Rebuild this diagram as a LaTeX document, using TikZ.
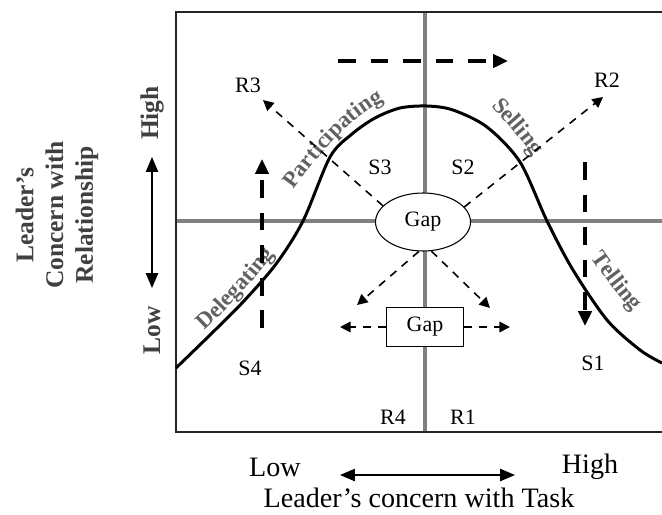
\documentclass[tikz,border=0pt]{standalone}
\usepackage{fontspec}
\setmainfont{Liberation Serif}
\newfontfamily\widefam[LetterSpace=11]{Liberation Serif}
\usepackage{tikz}
\usetikzlibrary{arrows.meta,shapes.geometric,decorations.text}
\colorlet{rule}{black!85}
\colorlet{midgray}{black!50}
\colorlet{curvetext}{black!62}
\newcommand{\wordfont}{\fontsize{13}{13}\selectfont\bfseries}
\newcommand{\widewordfont}{\widefam\fontsize{13}{13}\selectfont\bfseries}
\tikzset{
  frame/.style={draw=rule,line width=1.6pt},
  midline/.style={draw=midgray,line width=1.8pt},
  bell/.style={draw=black,line width=1.7pt},
  lbl/.style={font=\fontsize{12.5}{14}\selectfont,inner sep=1pt},
  axlbl/.style={font=\fontsize{16}{18}\selectfont,inner sep=1pt},
  sidelbl/.style={font=\fontsize{14.5}{17}\selectfont\bfseries,text=black!75,rotate=90,align=center,inner sep=1pt},
  gapoval/.style={ellipse,draw,line width=0.6pt,fill=white,minimum width=1.9cm,minimum height=1.16cm,inner sep=0pt,font=\fontsize{12.5}{14}\selectfont},
  gapbox/.style={rectangle,draw,line width=0.8pt,fill=white,minimum width=1.54cm,minimum height=0.78cm,inner sep=0pt,font=\fontsize{12.5}{14}\selectfont},
  thindash/.style={draw,line width=0.9pt,dash pattern=on 4.5pt off 4pt,-{Triangle[length=6pt,width=6pt]}},
  thickdash/.style={draw,line width=2.2pt,dash pattern=on 10pt off 8.5pt,-{Triangle[length=8.5pt,width=7.5pt]}},
  axarrow/.style={draw,line width=0.9pt,{Triangle[length=8.5pt,width=7pt]}-{Triangle[length=8.5pt,width=7pt]}}
}
\newcommand{\bendword}[2]{%
  \path[decorate,decoration={text along path,text align=center,text color=curvetext,
    text={#2}}] #1;
}

\begin{document}
\begin{tikzpicture}[x=0.02cm,y=-0.02cm]
  \useasboundingbox (0,0) rectangle (662,514);
  \draw[midline] (425,12) -- (425,432);
  \draw[midline] (176,221) -- (662,221);
  % frame, open on the right
  \draw[frame] (662,12) -| (176,432) -- (662,432);
  \draw[bell] plot[smooth] coordinates {(176,368)(210,335)(243,302)(276,264)(303,221)(330,157)(352,134)(375,118)(400,108)(427,106)(453,110)(487,127)(520,162)(547,221)(573,270)(607,320)(640,350)(662,363)};
  % style names along the curve
  \bendword{(189,345) .. controls (222,315) and (260,276) .. (287,237)}{|\widewordfont|Delegating}
  \bendword{(279,210) .. controls (312,165) and (350,108) .. (407,91)}{|\widewordfont|Participating}
  \bendword{(479,93) .. controls (497,112) and (527,143) .. (543,172)}{|\wordfont|Selling}
  \bendword{(582,243) .. controls (597,268) and (622,301) .. (644,324)}{|\wordfont|Telling}

  \node[lbl] (s3) at (380,167) {S3};
  \node[lbl] (s2) at (463,167) {S2};
  \node[lbl] (s4) at (250,368) {S4};
  \node[lbl] (s1) at (593,363) {S1};
  \node[lbl] (r3) at (248,85) {R3};
  \node[lbl] (r2) at (607,80) {R2};
  \node[lbl] (r4) at (393,417) {R4};
  \node[lbl] (r1) at (463,417) {R1};

  \node[gapoval] (gapE) at (423,222) {Gap};
  \node[gapbox] (gapR) at (425,327) {Gap};

  \coordinate (toR3) at (263,100);
  \coordinate (toR2) at (603,97);
  \coordinate (downL) at (357,305);
  \coordinate (downR) at (490,308);
  \coordinate (sideL) at (340,327);
  \coordinate (sideR) at (510,327);
  \draw[thindash] (gapE.158) -- (toR3);
  \draw[thindash] (gapE.20) -- (toR2);
  \draw[thindash] (gapE.262) -- (downL);
  \draw[thindash] (gapE.286) -- (downR);
  \draw[thindash] (gapR.west) -- (sideL);
  \draw[thindash] (gapR.east) -- (sideR);

  % movement arrows
  \coordinate (topA) at (338,61);
  \coordinate (topB) at (508,61);
  \coordinate (leftA) at (262,328);
  \coordinate (leftB) at (262,159);
  \coordinate (rightA) at (585,162);
  \coordinate (rightB) at (585,326);
  \draw[thickdash] (topA) -- (topB);
  \draw[thickdash] (leftA) -- (leftB);
  \draw[thickdash] (rightA) -- (rightB);

  % axes
  \node[sidelbl] (relT) at (57,215) {Leader’s\\Concern with\\Relationship};
  \node[sidelbl] (relHi) at (152,113) {High};
  \node[sidelbl] (relLo) at (152,330) {Low};
  \coordinate (relA) at (152,157);
  \coordinate (relB) at (152,288);
  \draw[axarrow] (relA) -- (relB);
  \node[axlbl] (taskLo) at (275,467) {Low};
  \node[axlbl] (taskHi) at (590,467) {High};
  \node[axlbl] (taskT) at (419,498) {Leader’s concern with Task};
  \coordinate (taskA) at (340,475);
  \coordinate (taskB) at (515,475);
  \draw[axarrow] (taskA) -- (taskB);
\end{tikzpicture}
\end{document}
